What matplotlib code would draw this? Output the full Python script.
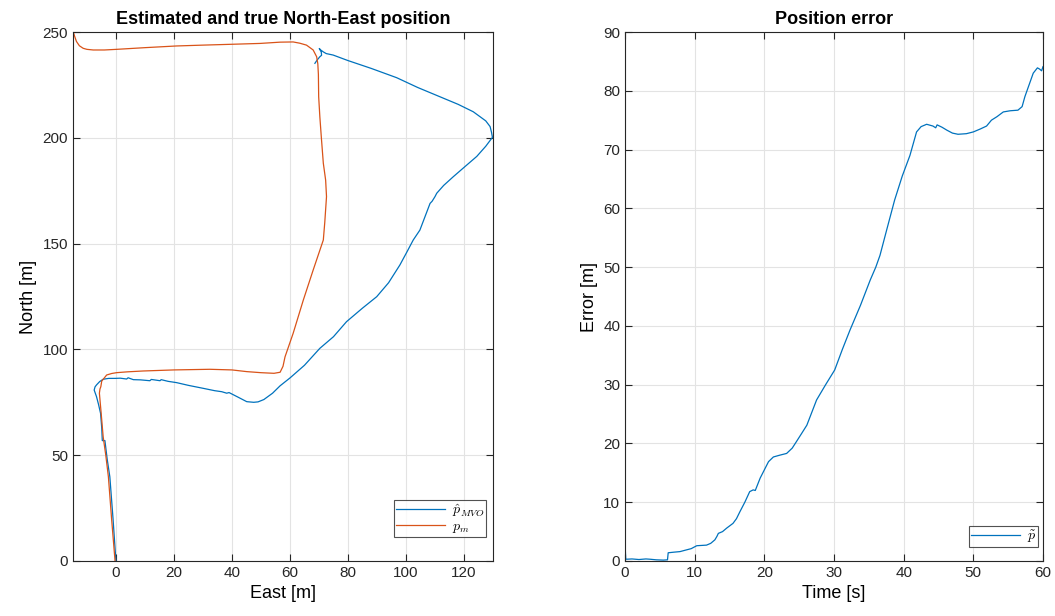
import matplotlib.pyplot as plt

plt.rcParams['font.family'] = ['Liberation Sans', 'DejaVu Sans']
plt.rcParams['mathtext.fontset'] = 'cm'

# Estimated (MVO) track, East / North in metres
est_east = [0.0, -1.0, -2.1, -3.0, -3.8, -4.7, -4.9, -5.3, -6.0, -6.7, -7.5, -7.2, -6.7,
            -5.6, -4.4, -2.5, -0.3, 1.5, 3.7, 4.2, 6.0, 8.5, 11.7, 12.2, 15.2, 15.6, 18.0,
            20.9, 25.0, 30.1, 34.0, 36.5, 38.2, 39.0, 42.0, 45.1, 47.5, 49.0, 51.0, 54.0,
            56.6, 60.0, 65.0, 70.3, 75.0, 79.5, 85.0, 89.9, 94.0, 97.9, 100.3, 102.5,
            104.8, 108.3, 109.0, 110.0, 110.6, 113.0, 116.3, 120.0, 124.4, 127.5, 129.8,
            129.5, 129.0, 127.5, 125.5, 124.0, 123.2, 118.0, 111.7, 104.0, 96.8, 88.0,
            80.0, 74.9, 72.5, 71.5, 70.6, 70.1, 70.8, 70.9, 70.3, 69.4, 68.6]
est_north = [0.0, 20.0, 39.8, 48.0, 56.9, 56.9, 63.0, 69.8, 74.0, 77.7, 80.8, 82.3, 83.2,
             84.8, 85.9, 86.3, 86.3, 86.4, 86.0, 86.6, 85.7, 85.6, 85.2, 85.8, 85.2, 85.7,
             84.9, 84.3, 83.0, 81.6, 80.5, 80.0, 79.3, 79.6, 77.5, 75.3, 75.0, 75.2, 76.3,
             79.3, 82.8, 86.5, 92.5, 100.5, 106.0, 113.1, 119.5, 124.9, 131.5, 139.9,
             146.0, 151.7, 156.4, 169.0, 170.0, 172.2, 173.8, 177.5, 181.6, 186.0, 191.2,
             196.0, 200.2, 202.5, 205.3, 208.0, 210.0, 211.5, 212.3, 215.8, 219.4, 223.8,
             228.4, 232.8, 236.5, 239.1, 239.8, 240.6, 241.5, 242.2, 240.5, 239.0, 238.3,
             236.8, 235.2]

# True track
true_east = [-0.3, -1.5, -2.6, -3.5, -4.4, -5.1, -5.7, -5.5, -5.2, -4.9, -3.2, -1.5, 0.2,
             4.0, 9.4, 20.0, 32.4, 40.0, 45.1, 50.0, 54.5, 56.6, 57.6, 58.3, 61.1, 64.6,
             68.0, 71.5, 72.0, 72.6, 72.3, 71.5, 70.8, 70.3, 69.9, 69.8, 69.6, 69.2, 68.0,
             65.7, 63.4, 61.1, 56.6, 49.7, 40.0, 30.0, 20.9, 10.0, 0.2, -4.0, -7.8, -10.0,
             -11.3, -12.6, -13.6, -14.2, -14.8]
true_north = [0.0, 20.0, 39.8, 50.0, 58.7, 70.0, 79.3, 81.3, 82.4, 85.0, 87.9, 88.6, 89.0,
              89.4, 89.8, 90.3, 90.6, 90.3, 89.5, 89.0, 88.7, 89.2, 92.0, 96.5, 107.6,
              123.3, 137.5, 151.7, 160.0, 172.2, 180.0, 188.0, 200.5, 210.0, 219.4, 230.0,
              235.0, 238.3, 241.5, 243.8, 244.7, 245.3, 245.2, 244.6, 244.2, 243.8, 243.4,
              242.6, 241.8, 241.5, 241.5, 241.8, 242.3, 243.5, 245.5, 247.8, 250.6]

# Position error over time
t = [0.0, 0.05, 0.1, 0.2, 1.0, 2.0, 3.0, 3.6, 4.5, 5.5, 6.1, 6.2, 7.0, 7.9, 8.85, 9.5,
     10.3, 11.0, 11.7, 12.3, 12.9, 13.2, 13.4, 14.0, 14.6, 15.5, 16.0, 16.5, 17.2, 17.9,
     18.4, 18.7, 19.4, 20.0, 20.6, 21.3, 22.2, 23.2, 24.0, 24.6, 25.3, 26.1, 27.5, 28.8,
     30.1, 31.2, 32.3, 33.8, 35.2, 36.0, 36.6, 37.6, 38.7, 39.8, 40.9, 41.85, 42.5, 43.3,
     44.2, 44.6, 44.8, 45.5, 46.2, 47.0, 47.8, 49.0, 50.0, 51.0, 51.9, 52.6, 53.4, 54.3,
     55.3, 56.4, 57.0, 57.4, 58.0, 58.6, 59.2, 59.5, 59.8, 60.0]
err = [0.3, 1.8, 0.4, 0.3, 0.35, 0.25, 0.35, 0.3, 0.2, 0.15, 0.2, 1.4, 1.5, 1.6, 1.9,
       2.1, 2.6, 2.65, 2.7, 3.0, 3.6, 4.2, 4.7, 5.0, 5.6, 6.4, 7.2, 8.4, 10.0, 11.8, 12.1,
       12.0, 14.1, 15.5, 16.9, 17.7, 18.0, 18.3, 19.2, 20.3, 21.6, 23.1, 27.4, 30.0, 32.5,
       36.0, 39.3, 43.5, 47.8, 50.0, 52.0, 56.5, 61.4, 65.5, 69.0, 73.0, 73.9, 74.3, 74.0,
       73.7, 74.2, 73.8, 73.3, 72.8, 72.6, 72.7, 73.0, 73.5, 74.0, 75.0, 75.6, 76.4, 76.6,
       76.7, 77.3, 79.0, 81.0, 83.0, 83.9, 83.7, 83.4, 84.1]

blue = '#0072BD'
orange = '#D95319'
axcol = '#262626'

fig = plt.figure(figsize=(10.55, 6.16), dpi=100)
ax1 = fig.add_axes([73 / 1055, 55 / 616, 420 / 1055, 529 / 616])
ax2 = fig.add_axes([625 / 1055, 55 / 616, 418 / 1055, 529 / 616])

ax1.plot(est_east, est_north, color=blue, lw=0.9, label=r'$\hat{p}_{MVO}$')
ax1.plot(true_east, true_north, color=orange, lw=0.9, label=r'$p_m$')
ax1.set_xlim(-14.8, 130)
ax1.set_ylim(0, 250)
ax1.set_xticks(range(0, 121, 20))
ax1.set_yticks(range(0, 251, 50))
ax1.set_xlabel('East [m]', fontsize=13)
ax1.set_ylabel('North [m]', fontsize=13)
ax1.set_title('Estimated and true North-East position', fontsize=13, fontweight='bold')

ax2.plot(t, err, color=blue, lw=0.9, label=r'$\tilde{p}$')
ax2.set_xlim(0, 60)
ax2.set_ylim(0, 90)
ax2.set_xticks(range(0, 61, 10))
ax2.set_yticks(range(0, 91, 10))
ax2.set_xlabel('Time [s]', fontsize=13)
ax2.set_ylabel('Error [m]', fontsize=13)
ax2.set_title('Position error', fontsize=13, fontweight='bold')

legend_anchor = {ax1: ((486 - 73) / 420, 24 / 529), ax2: ((1038 - 625) / 418, 14 / 529)}

for ax in (ax1, ax2):
    ax.grid(True, color='#e3e3e3', lw=0.8)
    ax.set_axisbelow(True)
    ax.tick_params(direction='in', top=True, right=True, labelsize=11,
                   colors=axcol, length=5)
    for s in ax.spines.values():
        s.set_color(axcol)
        s.set_linewidth(0.8)
    leg = ax.legend(loc='lower right', bbox_to_anchor=legend_anchor[ax], borderaxespad=0,
                    fancybox=False, edgecolor=axcol, fontsize=10, handlelength=3.5,
                    borderpad=0.15, labelspacing=0.0, handletextpad=0.5)
    leg.get_frame().set_linewidth(0.8)

fig.savefig('out.png', dpi=100)
